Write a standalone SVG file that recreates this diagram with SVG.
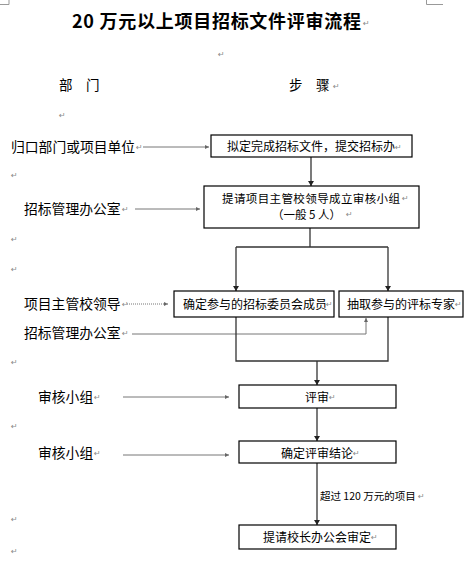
<svg xmlns="http://www.w3.org/2000/svg" width="472" height="575" viewBox="0 0 472 575">
<style>
.title{font-family:"Noto Sans CJK SC","Liberation Sans",sans-serif;font-size:18px;font-weight:bold;fill:#000}
.head{font-family:"Noto Sans CJK SC","Liberation Sans",sans-serif;font-size:13.5px;fill:#000}
.lbl{font-family:"Noto Sans CJK SC","Liberation Sans",sans-serif;font-size:13.8px;fill:#000}
.bt{font-family:"Noto Sans CJK SC","Liberation Sans",sans-serif;font-size:12px;fill:#000}
.bt2{font-family:"Noto Sans CJK SC","Liberation Sans",sans-serif;font-size:11.5px;fill:#000}
.el{font-family:"Noto Sans CJK SC","Liberation Sans",sans-serif;font-size:10.5px;fill:#000}
.pm{font-family:"DejaVu Sans",sans-serif;font-size:8px;fill:#888}
.box{fill:#fff;stroke:#000;stroke-width:1.2}
.fl{fill:none;stroke:#333;stroke-width:1.3}
.la{fill:none;stroke:#777;stroke-width:1}
.dot{fill:none;stroke:#777;stroke-width:1;stroke-dasharray:1 1}
.crop{fill:none;stroke:#999;stroke-width:1}
</style>
<defs>
<marker id="ah" markerUnits="userSpaceOnUse" markerWidth="6" markerHeight="6" refX="5" refY="3" orient="auto">
<path d="M0,0 L5,3 L0,6 Z" fill="#222"/>
</marker>
<marker id="ahs" markerUnits="userSpaceOnUse" markerWidth="5" markerHeight="5" refX="4" refY="2.5" orient="auto">
<path d="M0,0.5 L4,2.5 L0,4.5 Z" fill="#666"/>
</marker>
</defs>

<g id="page-marks">
<path class="crop" d="M9,0 V4.5 H0"/>
<path class="crop" d="M426.5,0 V4.5 H443"/>
</g>

<g id="header">
<text class="title" x="72" y="28" textLength="289" lengthAdjust="spacing">20 万元以上项目招标文件评审流程</text>
<text class="head" x="59" y="90">部　门</text>
<text class="head" x="289" y="90">步　骤</text>
</g>

<g id="connectors">
<line class="la" x1="143" y1="147" x2="209" y2="147" marker-end="url(#ahs)"/>
<line class="fl" x1="311" y1="157" x2="311" y2="186" marker-end="url(#ah)"/>
<line class="la" x1="135" y1="209" x2="200" y2="209" marker-end="url(#ahs)"/>
<polyline class="fl" points="310,228 310,247"/>
<polyline class="fl" points="236,247 388,247"/>
<line class="fl" x1="236" y1="247" x2="236" y2="291" marker-end="url(#ah)"/>
<line class="fl" x1="388" y1="247" x2="388" y2="291" marker-end="url(#ah)"/>
<line class="dot" x1="127" y1="304" x2="168" y2="304" marker-end="url(#ahs)"/>
<polyline class="la" points="132,334 366,334 366,318" marker-end="url(#ahs)"/>
<polyline class="fl" points="236,317 236,361 388,361 388,317"/>
<line class="fl" x1="317" y1="361" x2="317" y2="385" marker-end="url(#ah)"/>
<line class="la" x1="123" y1="397" x2="229" y2="397" marker-end="url(#ahs)"/>
<line class="fl" x1="317" y1="408" x2="317" y2="441" marker-end="url(#ah)"/>
<line class="la" x1="123" y1="455" x2="229" y2="455" marker-end="url(#ahs)"/>
<line class="fl" x1="317" y1="463" x2="317" y2="525" marker-end="url(#ah)"/>
<text class="el" x="320" y="500">超过 120 万元的项目</text>
</g>

<g id="labels">
<text class="lbl" x="11" y="152">归口部门或项目单位</text>
<text class="lbl" x="24" y="214">招标管理办公室</text>
<text class="lbl" x="24" y="309">项目主管校领导</text>
<text class="lbl" x="24" y="338">招标管理办公室</text>
<text class="lbl" x="38" y="402">审核小组</text>
<text class="lbl" x="38" y="458">审核小组</text>
</g>

<g id="n1">
<rect class="box" x="211" y="135" width="201" height="22"/>
<text class="bt" x="227" y="150.5">拟定完成招标文件，提交招标办</text>
</g>
<g id="n2">
<rect class="box" x="204" y="186" width="215" height="42"/>
<text class="bt2" x="222" y="202.5" textLength="178">提请项目主管校领导成立审核小组</text>
<text class="bt2" x="272" y="219">（一般 5 人）</text>
</g>
<g id="n3">
<rect class="box" x="174" y="291" width="160" height="26"/>
<text class="bt" x="183" y="308.5">确定参与的招标委员会成员</text>
</g>
<g id="n4">
<rect class="box" x="339" y="291" width="124" height="26"/>
<text class="bt" x="347" y="308.5">抽取参与的评标专家</text>
</g>
<g id="n5">
<rect class="box" x="239" y="385" width="157" height="23"/>
<text class="bt" x="305" y="401.5">评审</text>
</g>
<g id="n6">
<rect class="box" x="239" y="441" width="157" height="22"/>
<text class="bt" x="281" y="457.5">确定评审结论</text>
</g>
<g id="n7">
<rect class="box" x="239" y="525" width="157" height="24"/>
<text class="bt" x="263" y="541.5">提请校长办公会审定</text>
</g>

<g id="paragraph-marks">
<text class="pm" x="363" y="26">↵</text>
<text class="pm" x="218" y="57">↵</text>
<text class="pm" x="333" y="89">↵</text>
<text class="pm" x="59" y="118">↵</text>
<text class="pm" x="136" y="150">↵</text>
<text class="pm" x="395" y="150">↵</text>
<text class="pm" x="11" y="178">↵</text>
<text class="pm" x="122" y="212">↵</text>
<text class="pm" x="402" y="201">↵</text>
<text class="pm" x="346" y="217">↵</text>
<text class="pm" x="11" y="242">↵</text>
<text class="pm" x="11" y="272">↵</text>
<text class="pm" x="122" y="307">↵</text>
<text class="pm" x="326" y="307">↵</text>
<text class="pm" x="455" y="307">↵</text>
<text class="pm" x="122" y="336">↵</text>
<text class="pm" x="11" y="365">↵</text>
<text class="pm" x="94" y="400">↵</text>
<text class="pm" x="329" y="400">↵</text>
<text class="pm" x="11" y="429">↵</text>
<text class="pm" x="94" y="456">↵</text>
<text class="pm" x="353" y="456">↵</text>
<text class="pm" x="418" y="499">↵</text>
<text class="pm" x="11" y="522">↵</text>
<text class="pm" x="371" y="540">↵</text>
<text class="pm" x="11" y="554">↵</text>
</g>
</svg>
